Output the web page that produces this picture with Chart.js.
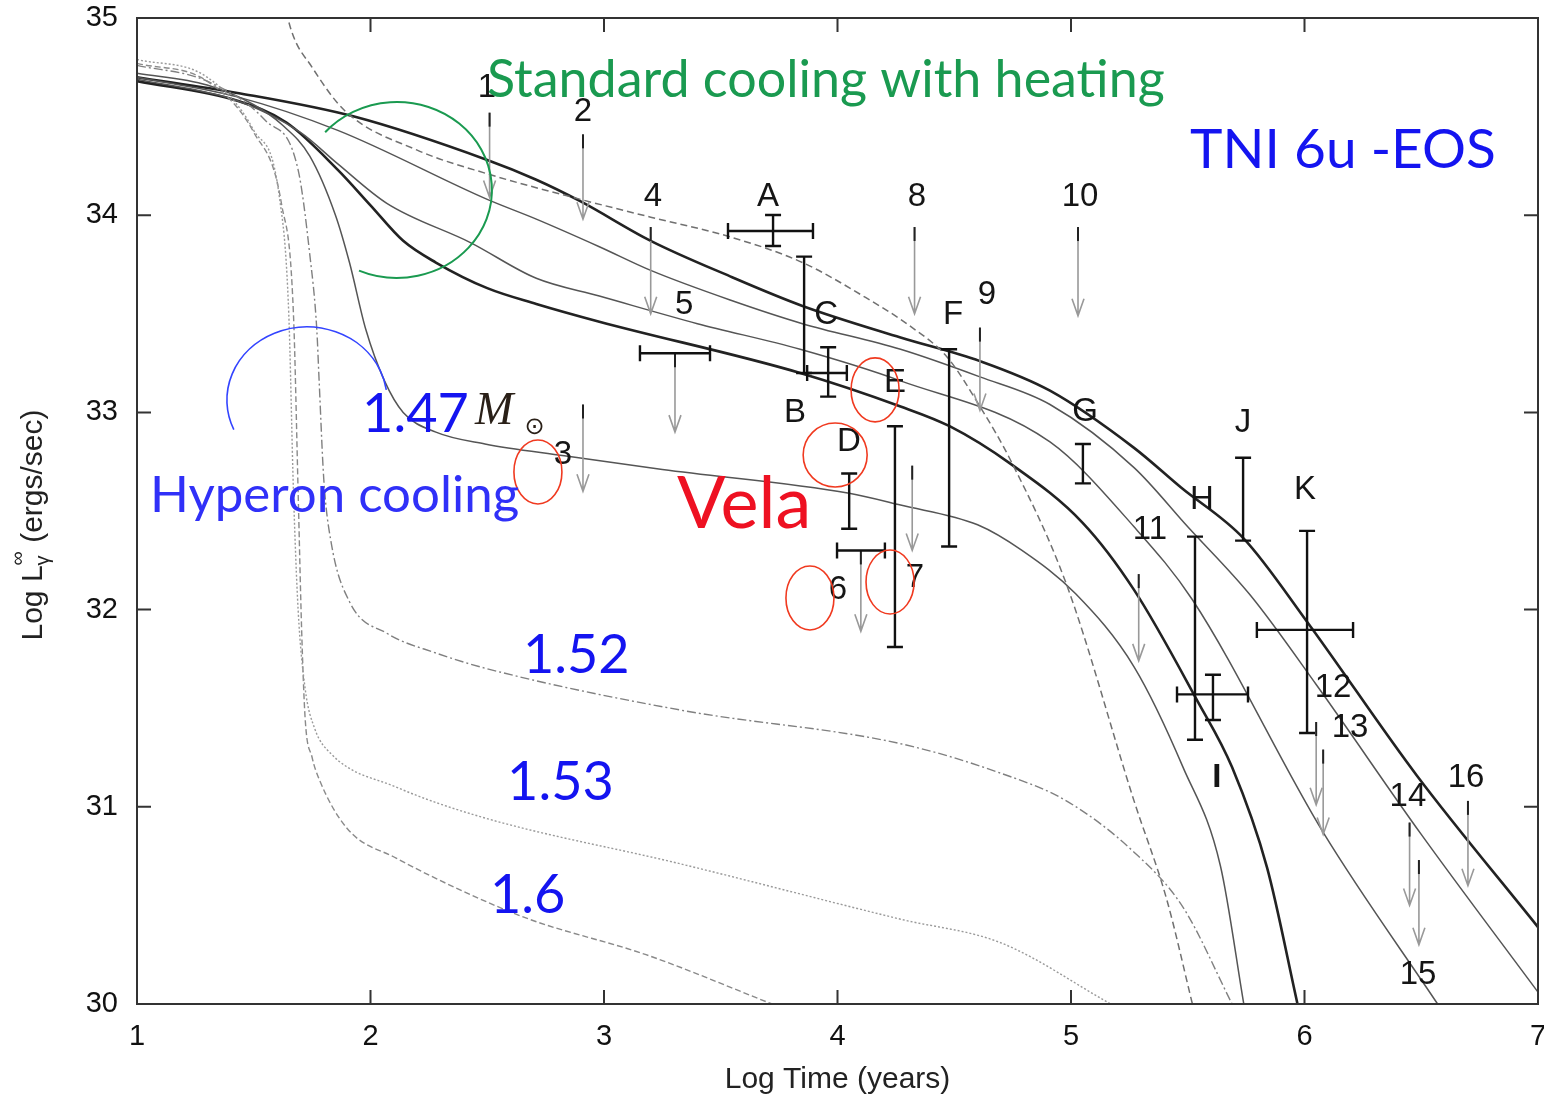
<!DOCTYPE html>
<html>
<head>
<meta charset="utf-8">
<script src="https://cdn.jsdelivr.net/npm/chart.js@4.4.1/dist/chart.umd.min.js"></script>
<style>
  html, body { margin: 0; padding: 0; background: #fff; }
</style>
</head>
<body>
<canvas id="graph" width="1544" height="1102"></canvas>
<script>
// cooling curves, [log t, log L]
const stdTop = [[1,34.70],[1.43,34.62],[1.93,34.50],[2.5,34.28],[2.71,34.18],[2.9,34.07],[3.2,33.87],[3.54,33.69],[3.85,33.54],[4.27,33.38],[4.61,33.26],[4.91,33.11],[5.27,32.82],[5.47,32.62],[5.74,32.36],[6.01,31.94],[6.48,31.16],[7.0,30.39]];
const stdSecond = [[1,34.70],[1.43,34.60],[1.86,34.43],[2.5,34.08],[2.71,33.98],[2.98,33.84],[3.2,33.72],[3.54,33.57],[3.85,33.45],[4.27,33.32],[4.61,33.18],[4.91,33.04],[5.27,32.72],[5.5,32.42],[5.77,32.07],[6.05,31.62],[6.5,30.86],[7.0,30.06]];
const stdThird = [[1,34.69],[1.43,34.58],[1.7,34.42],[1.86,34.26],[2.07,34.06],[2.43,33.86],[2.71,33.68],[2.98,33.59],[3.4,33.45],[3.84,33.32],[4.27,33.16],[4.91,32.85],[5.27,32.42],[5.52,32.05],[6.08,30.87],[6.57,30.0]];
const stdBottom = [[1,34.68],[1.43,34.58],[1.64,34.47],[1.86,34.23],[2.0,34.05],[2.14,33.87],[2.28,33.76],[2.5,33.63],[2.71,33.55],[2.98,33.46],[3.84,33.2],[4.27,33.03],[4.48,32.93],[4.74,32.74],[5.05,32.44],[5.27,32.1],[5.54,31.54],[5.69,31.2],[5.84,30.69],[5.97,30.0]];
const heating = [[1.60,35.25],[1.66,34.94],[1.75,34.75],[1.89,34.53],[2.2,34.33],[2.5,34.21],[2.9,34.08],[3.2,33.99],[3.54,33.89],[3.85,33.76],[4.11,33.59],[4.32,33.43],[4.47,33.28],[4.61,33.03],[4.74,32.76],[4.98,32.13],[5.27,31.03],[5.41,30.53],[5.52,30.0]];
const hyp147 = [[1,34.72],[1.3,34.66],[1.5,34.56],[1.62,34.46],[1.74,34.30],[1.85,34.0],[1.91,33.76],[1.98,33.42],[2.06,33.16],[2.14,33.0],[2.28,32.90],[2.49,32.84],[2.83,32.78],[3.25,32.71],[4.05,32.59],[4.27,32.53],[4.6,32.43],[4.79,32.30],[5.02,32.08],[5.27,31.71],[5.48,31.20],[5.64,30.70],[5.74,30.0]];
const hyp152 = [[1,34.76],[1.3,34.68],[1.55,34.48],[1.69,34.23],[1.74,33.8],[1.77,33.42],[1.78,33.16],[1.80,32.66],[1.83,32.35],[1.91,32.04],[2.07,31.88],[2.28,31.78],[2.50,31.70],[3.33,31.49],[4.27,31.32],[4.70,31.17],[4.98,31.03],[5.27,30.77],[5.48,30.49],[5.69,30.0]];
const hyp153 = [[1,34.79],[1.3,34.70],[1.5,34.43],[1.61,34.09],[1.65,33.5],[1.67,32.6],[1.69,32.0],[1.72,31.6],[1.76,31.40],[1.83,31.27],[2.11,31.10],[2.47,30.95],[3.33,30.71],[4.27,30.43],[4.70,30.31],[5.17,30.0]];
const hyp160 = [[1,34.77],[1.3,34.68],[1.5,34.42],[1.62,34.05],[1.67,33.5],[1.69,32.6],[1.705,31.9],[1.72,31.45],[1.75,31.25],[1.78,31.14],[1.90,30.89],[2.11,30.74],[2.40,30.57],[2.68,30.43],[3.18,30.25],[3.72,30.0]];

// observed sources with error bars
const barNames = ['A','B','C','D','E','F','G','H','I','J','K'];
const barX   = [3.724, 3.857, 3.96, 4.05, 4.246, 4.478, 5.051, 5.531, 5.608, 5.737, 6.011];
const barXLo = [3.531, null, 3.87, null, null, null, null, 5.454, null, null, 5.796];
const barXHi = [3.895, null, 4.04, null, null, null, null, 5.758, null, null, 6.208];
const barY   = [33.92, null, 33.20, null, null, null, null, 31.57, null, null, 31.897];
const barYLo = [33.844, 33.20, 33.08, 32.41, 31.81, 32.32, 32.64, 31.34, 31.44, 32.35, 31.374];
const barYHi = [34.001, 33.79, 33.33, 32.69, 32.93, 33.32, 32.84, 32.37, 31.67, 32.77, 32.399];

// upper limits (arrows)
const limNames = ['1','2','3','4','5','6','7','8','9','10','11','12','13','14','15','16'];
const limX   = [2.51, 2.91, 2.91, 3.20, 3.304, 4.10, 4.32, 4.33, 4.61, 5.03, 5.29, 6.05, 6.08, 6.45, 6.49, 6.70];
const limXLo = [null, null, null, null, 3.154, 3.998, null, null, null, null, null, null, null, null, null, null];
const limXHi = [null, null, null, null, 3.454, 4.203, null, null, null, null, null, null, null, null, null, null];
const limTop = [34.52, 34.41, 33.04, 33.94, 33.30, 32.30, 32.73, 33.94, 33.43, 33.94, 32.18, 31.43, 31.29, 30.92, 30.73, 31.03];
const limTip = [34.09, 33.98, 32.60, 33.50, 32.90, 31.89, 32.30, 33.50, 33.01, 33.49, 31.74, 31.01, 30.86, 30.50, 30.30, 30.60];

// where the source names sit
const barLabelSpot = [[3.702,34.092],[3.818,32.997],[3.951,33.494],[4.049,32.85],[4.246,33.149],[4.495,33.494],[5.06,33.002],[5.561,32.556],[5.625,31.146],[5.737,32.946],[6.002,32.607]];
const limLabelSpot = [[2.499,34.645],[2.91,34.523],[2.824,32.784],[3.21,34.092],[3.343,33.545],[4.002,32.099],[4.332,32.16],[4.34,34.092],[4.64,33.595],[5.039,34.092],[5.338,32.404],[6.122,31.602],[6.195,31.40],[6.443,31.05],[6.486,30.147],[6.692,31.146]];

const xTicks = [1, 2, 3, 4, 5, 6, 7];
const yTicks = [30, 31, 32, 33, 34, 35];

const pts = arr => arr.map(p => ({x: p[0], y: p[1]}));

function curve(arr, color, width, dash) {
  return {
    data: pts(arr),
    borderColor: color,
    borderWidth: width,
    borderDash: dash || [],
    pointRadius: 0,
    fill: false,
    cubicInterpolationMode: 'monotone'
  };
}

function noPad(s) {
  s.paddingTop = 0; s.paddingBottom = 0; s.paddingLeft = 0; s.paddingRight = 0;
}

const overlay = {
  id: 'overlay',
  afterDatasetsDraw(chart) {
    const ctx = chart.ctx;
    const xs = chart.scales.x, ys = chart.scales.y;
    const px = v => xs.getPixelForValue(v);
    const py = v => ys.getPixelForValue(v);
    const a = chart.chartArea;
    ctx.save();

    // frame and inward ticks
    ctx.strokeStyle = '#333';
    ctx.lineWidth = 2;
    ctx.strokeRect(a.left, a.top, a.right - a.left, a.bottom - a.top);
    ctx.beginPath();
    xTicks.slice(1, -1).forEach(v => {
      ctx.moveTo(px(v), a.bottom); ctx.lineTo(px(v), a.bottom - 14);
      ctx.moveTo(px(v), a.top); ctx.lineTo(px(v), a.top + 14);
    });
    yTicks.slice(1, -1).forEach(v => {
      ctx.moveTo(a.left, py(v)); ctx.lineTo(a.left + 14, py(v));
      ctx.moveTo(a.right, py(v)); ctx.lineTo(a.right - 14, py(v));
    });
    ctx.stroke();

    // error bars
    const cap = 8;
    ctx.strokeStyle = '#111';
    ctx.lineWidth = 2.4;
    barNames.forEach((n, i) => {
      const x = px(barX[i]);
      const y1 = py(barYLo[i]), y2 = py(barYHi[i]);
      ctx.beginPath();
      ctx.moveTo(x, y1); ctx.lineTo(x, y2);
      ctx.moveTo(x - cap, y1); ctx.lineTo(x + cap, y1);
      ctx.moveTo(x - cap, y2); ctx.lineTo(x + cap, y2);
      if (barXLo[i] != null) {
        const y = py(barY[i]), x1 = px(barXLo[i]), x2 = px(barXHi[i]);
        ctx.moveTo(x1, y); ctx.lineTo(x2, y);
        ctx.moveTo(x1, y - cap); ctx.lineTo(x1, y + cap);
        ctx.moveTo(x2, y - cap); ctx.lineTo(x2, y + cap);
      }
      ctx.stroke();
    });

    // upper limit arrows
    limNames.forEach((n, i) => {
      const x = px(limX[i]), yt = py(limTop[i]), yb = py(limTip[i]);
      ctx.lineWidth = 1.6;
      ctx.strokeStyle = '#999';
      ctx.beginPath();
      ctx.moveTo(x, yt); ctx.lineTo(x, yb);
      ctx.moveTo(x - 6, yb - 17); ctx.lineTo(x, yb); ctx.lineTo(x + 6, yb - 17);
      ctx.stroke();
      ctx.strokeStyle = '#222';
      ctx.lineWidth = 2;
      ctx.beginPath();
      ctx.moveTo(x, yt); ctx.lineTo(x, yt + 14);
      ctx.stroke();
      if (limXLo[i] != null) {
        const x1 = px(limXLo[i]), x2 = px(limXHi[i]);
        ctx.strokeStyle = '#111';
        ctx.lineWidth = 2.4;
        ctx.beginPath();
        ctx.moveTo(x1, yt); ctx.lineTo(x2, yt);
        ctx.moveTo(x1, yt - cap); ctx.lineTo(x1, yt + cap);
        ctx.moveTo(x2, yt - cap); ctx.lineTo(x2, yt + cap);
        ctx.stroke();
      }
    });

    // source names
    ctx.fillStyle = '#151515';
    ctx.textAlign = 'center';
    ctx.textBaseline = 'middle';
    barNames.forEach((n, i) => {
      ctx.font = (n === 'I' ? 'bold ' : '') + '33px "Liberation Sans", Arial, sans-serif';
      ctx.fillText(n, px(barLabelSpot[i][0]), py(barLabelSpot[i][1]));
    });
    ctx.font = '33px "Liberation Sans", Arial, sans-serif';
    limNames.forEach((n, i) => {
      ctx.fillText(n, px(limLabelSpot[i][0]), py(limLabelSpot[i][1]));
    });

    // y axis title with sub/superscript
    ctx.save();
    ctx.translate(32, 525);
    ctx.rotate(-Math.PI / 2);
    ctx.fillStyle = '#222';
    ctx.textAlign = 'left';
    ctx.textBaseline = 'alphabetic';
    const big = '30px "Liberation Sans", Arial, sans-serif';
    const small = '20px "Liberation Sans", Arial, sans-serif';
    ctx.font = big;
    const w1 = ctx.measureText('Log L').width;
    const w3 = ctx.measureText(' (ergs/sec)').width;
    ctx.font = small;
    const w2 = Math.max(ctx.measureText('γ').width, ctx.measureText('∞').width);
    let sx = -(w1 + w2 + w3) / 2;
    ctx.font = big;
    ctx.fillText('Log L', sx, 10);
    ctx.font = small;
    ctx.fillText('γ', sx + w1, 17);
    ctx.fillText('∞', sx + w1, -8);
    ctx.font = big;
    ctx.fillText(' (ergs/sec)', sx + w1 + w2, 10);
    ctx.restore();

    // hand-drawn annotations
    ctx.textAlign = 'left';
    ctx.textBaseline = 'alphabetic';
    ctx.lineWidth = 2;
    ctx.strokeStyle = '#1a9a50';
    ctx.beginPath();
    ctx.ellipse(px(2.113), py(34.128), px(2.113) - px(1.706), py(33.682) - py(34.128), 0, -139 * Math.PI / 180, 113.5 * Math.PI / 180);
    ctx.stroke();
    ctx.strokeStyle = '#3344ff';
    ctx.lineWidth = 1.6;
    ctx.beginPath();
    ctx.ellipse(px(1.728), py(33.063), px(1.728) - px(1.385), py(32.693) - py(33.063), 0, 156 * Math.PI / 180, 352 * Math.PI / 180);
    ctx.stroke();

    ctx.strokeStyle = '#f03a20';
    ctx.lineWidth = 1.6;
    [[2.717,32.698,24],[4.161,33.114,24],[3.99,32.784,32],[3.882,32.059,24],[4.225,32.14,24]].forEach(c => {
      ctx.beginPath();
      ctx.ellipse(px(c[0]), py(c[1]), c[2], 32, 0, 0, Math.PI * 2);
      ctx.stroke();
    });

    ctx.fillStyle = '#1a9a50';
    ctx.font = '52px Lato, "Open Sans", sans-serif';
    ctx.fillText('Standard cooling with heating', px(2.499), py(34.60));
    ctx.fillStyle = '#1414f0';
    ctx.font = '55px Lato, "Open Sans", sans-serif';
    ctx.fillText('TNI 6u -EOS', px(5.51), py(34.24));
    ctx.font = '54px Lato, "Open Sans", sans-serif';
    ctx.fillText('1.47', px(1.964), py(32.90));
    ctx.fillText('1.52', px(2.653), py(31.68));
    ctx.fillText('1.53', px(2.585), py(31.035));
    ctx.fillText('1.6', px(2.512), py(30.46));
    ctx.fillStyle = '#3030f8';
    ctx.font = '51px Lato, "Open Sans", sans-serif';
    ctx.fillText('Hyperon cooling', px(1.056), py(32.495));
    ctx.fillStyle = '#ee1122';
    ctx.font = '72px Lato, "Open Sans", sans-serif';
    ctx.fillText('Vela', px(3.313), py(32.414));

    ctx.fillStyle = '#2a2018';
    ctx.font = 'italic 46px "Liberation Serif", "DejaVu Serif", serif';
    ctx.fillText('M', px(2.448), py(32.94));
    ctx.font = '24px "DejaVu Sans", sans-serif';
    ctx.fillText('⊙', px(2.66), py(32.89));

    ctx.restore();
  }
};

const chartData = {
  datasets: [
    curve(hyp153, '#9a9a9a', 1.4, [2, 2]),
    curve(hyp160, '#8a8a8a', 1.4, [6, 3]),
    curve(hyp152, '#808080', 1.4, [9, 3, 2, 3]),
    curve(heating, '#707070', 1.5, [7, 4]),
    curve(hyp147, '#555', 1.5),
    curve(stdThird, '#555', 1.5),
    curve(stdSecond, '#555', 1.5),
    curve(stdBottom, '#222', 2.6),
    curve(stdTop, '#222', 2.6)
  ]
};

const tickFont = { family: '"Liberation Sans", Arial, sans-serif', size: 29 };

const coolingChart = new Chart(document.getElementById('graph'), {
  type: 'line',
  data: chartData,
  options: {
    responsive: false,
    devicePixelRatio: 1,
    animation: false,
    layout: { padding: { left: 0, top: 18, right: 6, bottom: 0 } },
    plugins: { legend: { display: false }, tooltip: { enabled: false } },
    scales: {
      x: {
        type: 'linear', min: 1, max: 7,
        afterBuildTicks: s => { s.ticks = xTicks.map(v => ({ value: v })); },
        afterFit: s => { s.height = 98; noPad(s); },
        grid: { display: false, drawTicks: false },
        border: { display: false },
        ticks: { font: tickFont, color: '#111', padding: 16, maxRotation: 0, autoSkip: false },
        title: { display: true, text: 'Log Time (years)', font: { family: '"Liberation Sans", Arial, sans-serif', size: 30 }, color: '#222', padding: { top: 4 } }
      },
      y: {
        type: 'linear', min: 30, max: 35,
        afterBuildTicks: s => { s.ticks = yTicks.map(v => ({ value: v })); },
        afterFit: s => { s.width = 137; noPad(s); },
        grid: { display: false, drawTicks: false },
        border: { display: false },
        ticks: { font: tickFont, color: '#111', padding: 19 }
      }
    }
  },
  plugins: [overlay]
});
</script>
</body>
</html>
